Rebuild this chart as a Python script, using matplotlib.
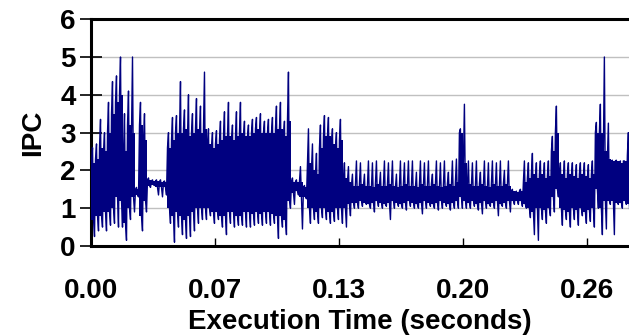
import numpy as np
import matplotlib
matplotlib.use('Agg')
import matplotlib.pyplot as plt

plt.rcParams.update({
    'font.family': ['Liberation Sans', 'DejaVu Sans'],
    'font.weight': 'bold',
})

# IPC trace summarised per ~2.1 ms interval:
# dense core band (core_lo..core_hi) plus the interval's peak and trough
bin_width = 0.0021125  # seconds

ipc_core_hi = [
    2.2, 2.3, 2.6, 2.5, 3.0, 3.5, 3.8, 4.0, 2.5, 3.2, 3.0,
    1.5, 3.2, 2.8,
    1.75, 1.72, 1.72, 1.7, 1.7,
    2.6, 2.8, 3.0, 3.0, 3.1, 2.9, 3.0, 3.1, 3.0, 3.1, 2.7, 2.6, 2.7, 2.8, 2.9, 2.9,
    2.8, 2.9, 3.0, 2.9, 2.9, 3.0, 3.1, 3.0, 3.0, 3.0, 3.0, 3.1, 3.1, 2.9, 3.3,
    1.7, 1.7, 1.7, 1.55,
    2.2, 2.0, 1.9, 2.6, 2.9, 2.9, 2.7, 2.6, 2.8,
    1.8, 1.7, 1.6,
    1.6, 1.65, 1.6, 1.6, 1.55, 1.65, 1.6, 1.6, 1.65, 1.6, 1.55, 1.6, 1.65,
    1.6, 1.6, 1.55, 1.65, 1.6, 1.6, 1.65, 1.6, 1.55, 1.6, 1.65, 1.6, 1.7,
    3.0, 2.2,
    1.65, 1.6, 1.6, 1.65, 1.6, 1.55, 1.65, 1.6, 1.6, 1.65, 1.6,
    1.45, 1.42, 1.45,
    1.7, 1.8, 1.9, 1.8, 1.9, 1.8, 1.85,
    2.5, 3.0,
    1.9, 1.8, 1.9, 1.85, 1.8, 1.9, 1.85, 1.8, 1.9,
    3.0, 3.0, 2.5, 2.3,
    2.25, 2.25, 2.2, 2.25, 2.4,
]

ipc_core_lo = [
    0.7, 0.8, 0.8, 0.9, 0.9, 1.0, 1.3, 1.2, 0.6, 1.0, 1.3,
    1.35, 0.8, 1.2,
    1.6, 1.62, 1.55, 1.55, 1.55,
    1.0, 0.8, 0.9, 0.8, 0.7, 0.8, 0.9, 1.0, 1.0, 1.0, 1.0, 0.9, 0.9, 0.8, 0.8, 0.9,
    0.9, 0.8, 0.8, 0.9, 0.9, 0.85, 0.9, 0.85, 0.9, 0.9, 0.85, 0.8, 0.8, 0.7, 1.2,
    1.4, 1.45, 1.3, 1.3,
    1.0, 1.0, 0.9, 1.0, 1.0, 0.9, 0.9, 1.0, 1.0,
    1.0, 1.1, 1.15,
    1.15, 1.2, 1.15, 1.1, 1.15, 1.2, 1.15, 1.1, 1.15, 1.2, 1.15, 1.1, 1.15,
    1.2, 1.15, 1.1, 1.15, 1.2, 1.15, 1.1, 1.15, 1.2, 1.15, 1.1, 1.15, 1.2,
    1.3, 1.2,
    1.15, 1.2, 1.1, 1.15, 1.2, 1.1, 1.15, 1.2, 1.1, 1.15, 1.2,
    1.2, 1.2, 1.2,
    1.1, 1.0, 0.9, 1.0, 1.0, 0.95, 1.0,
    1.3, 1.5,
    1.0, 0.95, 0.9, 1.0, 0.95, 1.0, 0.9, 0.95, 1.0,
    1.5, 1.0, 1.2, 1.2,
    1.2, 1.15, 1.15, 1.2, 1.1,
]

ipc_high = [
    2.6, 2.7, 3.35, 3.0, 3.8, 4.35, 4.5, 5.0, 3.5, 4.1, 5.0,
    1.55, 3.8, 3.5,
    1.8, 1.75, 1.75, 1.75, 1.72,
    3.0, 3.4, 3.45, 4.35, 3.6, 4.0, 3.5, 3.9, 3.7, 4.6, 3.1, 3.0, 3.05, 3.3, 3.55, 3.8,
    3.2, 3.55, 3.8, 3.3, 3.2, 3.35, 3.4, 3.5, 3.3, 3.35, 3.4, 3.7, 3.8, 3.3, 4.6,
    1.8, 1.75, 2.1, 1.6,
    3.1, 2.7, 2.45, 3.2, 3.45, 3.4, 3.1, 3.0, 3.35,
    2.2, 2.1, 1.9,
    2.25, 2.2, 1.9, 2.25, 2.2, 2.25, 1.95, 2.25, 2.2, 2.25, 1.9, 2.25, 2.2,
    2.25, 2.25, 1.95, 2.25, 2.2, 2.25, 1.9, 2.25, 2.2, 2.25, 1.95, 2.25, 2.3,
    3.1, 3.75,
    2.25, 2.2, 2.25, 1.95, 2.25, 2.2, 2.25, 2.2, 2.25, 2.0, 2.25,
    1.5, 1.45, 1.5,
    2.25, 2.2, 2.45, 2.2, 2.25, 2.2, 2.25,
    2.9, 3.7,
    2.2, 2.25, 2.2, 2.2, 2.15, 2.2, 2.2, 2.15, 2.25,
    3.27, 3.75, 5.0, 3.25,
    2.27, 2.27, 2.25, 2.25, 3.0,
]

ipc_low = [
    0.25, 0.4, 0.5, 0.4, 0.55, 0.6, 0.5, 0.5, 0.15, 0.7, 0.9,
    1.3, 0.4, 0.9,
    1.55, 1.6, 1.35, 1.3, 1.35,
    0.6, 0.1, 0.5, 0.3, 0.2, 0.25, 0.4, 0.6, 0.7, 0.7, 0.8, 0.6, 0.7, 0.5, 0.3, 0.6,
    0.5, 0.55, 0.55, 0.5, 0.5, 0.55, 0.6, 0.55, 0.6, 0.55, 0.6, 0.2, 0.5, 0.3, 1.0,
    1.1, 1.35, 0.45, 1.25,
    0.6, 0.7, 0.6, 0.75, 0.7, 0.6, 0.65, 0.7, 0.6,
    0.5, 0.8, 1.0,
    1.0, 1.05, 1.1, 1.0, 0.9, 1.05, 1.0, 1.05, 0.7, 1.0, 1.05, 1.0, 0.95,
    1.05, 1.0, 1.0, 0.85, 1.0, 1.05, 1.0, 0.95, 1.0, 1.05, 0.95, 1.0, 1.0,
    1.0, 1.0,
    1.0, 1.05, 0.95, 0.85, 1.0, 1.05, 1.0, 0.8, 1.05, 1.0, 0.9,
    1.1, 1.1, 1.05,
    1.0, 0.75, 0.3, 0.15, 0.7, 0.6, 0.8,
    0.9, 1.3,
    0.55, 0.7, 0.5, 0.7, 0.55, 0.8, 0.6, 0.65, 0.5,
    1.0, 0.3, 0.45, 1.1,
    0.3, 1.1, 1.0, 1.1, 0.65,
]

tick_times = [0.0, 0.0655, 0.131, 0.1965, 0.262]
tick_labels = ['0.00', '0.07', '0.13', '0.20', '0.26']
ipc_ticks = [0, 1, 2, 3, 4, 5, 6]

n_bins = len(ipc_high)
edges = np.arange(n_bins + 1) * bin_width

# within each interval the trace runs core top -> peak -> core bottom -> trough
trace = np.column_stack([ipc_core_hi, ipc_high, ipc_core_lo, ipc_low]).ravel()
trace_t = (np.arange(trace.size) + 0.5) * bin_width / 4

fig = plt.figure(figsize=(6.29, 3.35), dpi=100)
ax = fig.add_axes([0.1447, 0.2657, 0.8553, 0.677])

navy = '#000080'
ax.stairs(ipc_core_hi, edges, baseline=ipc_core_lo, fill=True,
          color=navy, lw=0, zorder=3)
ax.plot(trace_t, trace, color=navy, lw=1.0, zorder=3)

ax.set_xlim(0, 0.2842)
ax.set_ylim(0, 6)
ax.set_yticks(ipc_ticks)
ax.set_xticks(tick_times)
ax.set_xticklabels(tick_labels)

ax.grid(axis='y', color='#c0c0c0', lw=1.0, zorder=0)
ax.set_axisbelow(True)

for side in ('left', 'bottom', 'top'):
    ax.spines[side].set_linewidth(2.2)
    ax.spines[side].set_color('black')
ax.spines['right'].set_visible(False)

ax.tick_params(axis='y', direction='inout', length=16, width=1.2, labelsize=20, pad=3)
ax.tick_params(axis='x', direction='in', length=6, width=1.0, labelsize=20, pad=23)

ax.set_ylabel('IPC', fontsize=20, fontweight='bold', labelpad=10)
ax.set_xlabel('Execution Time (seconds)', fontsize=20, fontweight='bold', labelpad=4)

fig.savefig('out.png', dpi=100, facecolor='white')
